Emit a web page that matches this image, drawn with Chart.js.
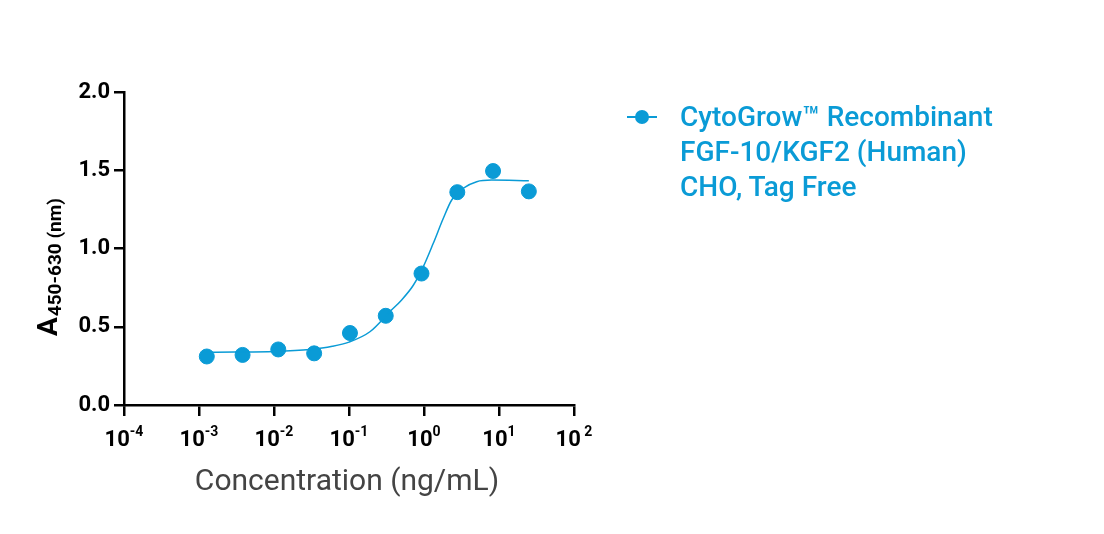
<!DOCTYPE html>
<html>
<head>
<meta charset="utf-8">
<script src="https://cdn.jsdelivr.net/npm/chart.js@4/dist/chart.umd.min.js"></script>
<style>
    html, body { margin: 0; padding: 0; background: #fff; }
    #wrap { position: relative; width: 1104px; height: 534px; }
    #chart { position: absolute; left: 0; top: 0; }
    .legend { position: absolute; left: 627px; top: 99px; font-family: Roboto, sans-serif; font-weight: 500; font-size: 28px; line-height: 35px; color: #0a9bd6; }
    .legend .marker { position: absolute; left: 0; top: 17px; width: 30px; height: 1.5px; background: #0a9bd6; }
    .legend .marker::after { content: ''; position: absolute; left: 8px; top: -6px; width: 14px; height: 14px; border-radius: 50%; background: #0a9bd6; }
    .legend .text { margin-left: 53px; white-space: nowrap; }
</style>
</head>
<body>
<div id="wrap">
    <canvas id="chart" width="1104" height="534"></canvas>
    <div class="legend">
        <div class="marker"></div>
        <div class="text">CytoGrow™ Recombinant<br>FGF-10/KGF2 (Human)<br>CHO, Tag Free</div>
    </div>
</div>
<script>
// Measured points (3-fold dilution series)
const concentrations = [0.00127, 0.00381, 0.0114, 0.0343, 0.103, 0.309, 0.926, 2.78, 8.33, 25];
const absorbance = [0.31, 0.32, 0.355, 0.33, 0.46, 0.57, 0.84, 1.36, 1.495, 1.365];

// Fitted curve
const curveX = [0.00127, 0.003, 0.01, 0.03, 0.06, 0.1, 0.19, 0.35, 0.5, 0.72, 0.98, 1.33, 1.81, 2.34, 3.34, 5.04, 8, 25];
const curveY = [0.337, 0.338, 0.342, 0.355, 0.375, 0.402, 0.468, 0.596, 0.67, 0.765, 0.884, 1.033, 1.193, 1.31, 1.385, 1.427, 1.437, 1.433];

const xExponents = [-4, -3, -2, -1, 0, 1, 2];
const yTicks = [0, 0.5, 1.0, 1.5, 2.0];

const blue = '#0a9bd6';

// axis titles and 10^n labels
const axisText = {
    id: 'axisText',
    afterDraw(chart) {
        const ctx = chart.ctx;
        const xs = chart.scales.x;
        ctx.save();
        ctx.fillStyle = '#000';
        ctx.textBaseline = 'alphabetic';
        xExponents.forEach(e => {
            const px = xs.getPixelForValue(Math.pow(10, e));
            const base = '10';
            const sup = e === 2 ? ' 2' : String(e);
            ctx.font = 'bold 22px Roboto';
            const wb = ctx.measureText(base).width;
            ctx.font = 'bold 14px Roboto';
            const ws = ctx.measureText(sup).width;
            const left = px - (wb + ws) / 2;
            ctx.font = 'bold 22px Roboto';
            ctx.textAlign = 'left';
            ctx.fillText(base, left, 446);
            ctx.font = 'bold 14px Roboto';
            ctx.fillText(sup, left + wb, 436);
        });

        // x title
        ctx.fillStyle = '#444';
        ctx.font = '30px Roboto';
        ctx.textAlign = 'center';
        ctx.fillText('Concentration (ng/mL)', 347, 490);

        // y title, rotated
        ctx.fillStyle = '#000';
        ctx.translate(57, 336);
        ctx.rotate(-Math.PI / 2);
        ctx.textAlign = 'left';
        ctx.font = 'bold 28px Roboto';
        ctx.fillText('A', 0, 0);
        const wa = ctx.measureText('A').width;
        ctx.font = 'bold 19px Roboto';
        ctx.fillText('450-630 (nm)', wa + 1, 4);
        ctx.restore();
    }
};

new Chart(document.getElementById('chart'), {
    type: 'scatter',
    data: {
        datasets: [{
            type: 'line',
            label: 'fit',
            data: curveX.map((x, i) => ({ x: x, y: curveY[i] })),
            borderColor: blue,
            borderWidth: 1.5,
            pointRadius: 0,
            cubicInterpolationMode: 'monotone',
            fill: false
        }, {
            label: 'CytoGrow™ Recombinant FGF-10/KGF2 (Human) CHO, Tag Free',
            data: concentrations.map((x, i) => ({ x: x, y: absorbance[i] })),
            backgroundColor: blue,
            borderColor: blue,
            pointRadius: 7.5,
            showLine: false
        }]
    },
    options: {
        responsive: false,
        animation: false,
        devicePixelRatio: 1,
        layout: { padding: { left: 0, right: 530, top: 92, bottom: 0 } },
        plugins: { legend: { display: false }, tooltip: { enabled: false } },
        scales: {
            x: {
                type: 'logarithmic',
                min: 1e-4,
                max: 1e2,
                afterBuildTicks: s => { s.ticks = xExponents.map(e => ({ value: Math.pow(10, e) })); },
                afterFit: s => { s.height = 129; },
                ticks: { display: false },
                grid: { drawOnChartArea: false, drawTicks: true, tickLength: 11, color: '#000', lineWidth: 2.5 },
                border: { color: '#000', width: 2.5 }
            },
            y: {
                min: 0,
                max: 2,
                afterBuildTicks: s => { s.ticks = yTicks.map(v => ({ value: v })); },
                afterFit: s => { s.width = 124; },
                ticks: {
                    color: '#000',
                    padding: 4,
                    font: { family: 'Roboto', size: 22, weight: 'bold' },
                    callback: v => Number(v).toFixed(1)
                },
                grid: { drawOnChartArea: false, drawTicks: true, tickLength: 10, color: '#000', lineWidth: 2.5 },
                border: { color: '#000', width: 2.5 }
            }
        }
    },
    plugins: [axisText]
});
</script>
</body>
</html>
